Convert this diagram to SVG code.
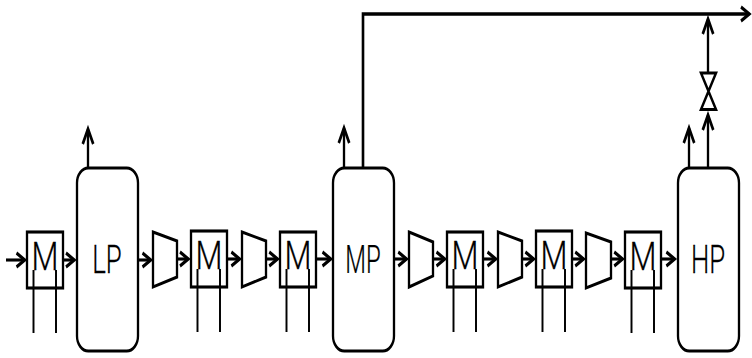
<svg xmlns="http://www.w3.org/2000/svg" width="752" height="358" viewBox="0 0 752 358">
<style>
.n{transform:scale(.75,1);fill:none;stroke:#000;stroke-width:3.1}
.b{stroke-width:3.500}
.w{stroke-width:2.600}
.l{font-family:Roboto,"Liberation Sans",Arial,sans-serif;font-weight:300;font-size:38px;fill:#000;stroke:#000;stroke-width:.25;text-anchor:middle}
</style>
<defs>
<marker id="a" markerUnits="userSpaceOnUse" markerWidth="18" markerHeight="20" refX="13" refY="10" orient="auto"><path d="M2 3L13 10L2 17" fill="none" stroke="#000" stroke-width="3.500"/></marker>
<marker id="v" markerUnits="userSpaceOnUse" markerWidth="24" markerHeight="20" refX="16" refY="10" orient="auto"><path d="M1 3L16 10L1 17" fill="none" stroke="#000" stroke-width="3.500"/></marker>
</defs>
<g id="connectors">
<path class="n" marker-end="url(#a)" d="M8 260H33"/>
<path class="n" marker-end="url(#a)" d="M84 260H99"/>
<path class="n" marker-end="url(#a)" d="M184 260H201"/>
<path class="n" marker-end="url(#a)" d="M236 259H251"/>
<path class="n" marker-end="url(#a)" d="M302.670 259H319.500"/>
<path class="n" marker-end="url(#a)" d="M354.670 259H370"/>
<path class="n" marker-end="url(#a)" d="M421.330 259H441"/>
<path class="n" marker-end="url(#a)" d="M525.330 259H542"/>
<path class="n" marker-end="url(#a)" d="M577.330 259H593"/>
<path class="n" marker-end="url(#a)" d="M644 259H661"/>
<path class="n" marker-end="url(#a)" d="M696 259H711.500"/>
<path class="n" marker-end="url(#a)" d="M762.670 259H778"/>
<path class="n" marker-end="url(#a)" d="M814.670 259H830"/>
<path class="n" marker-end="url(#a)" d="M881.330 259H899.500"/>
<path class="n" marker-end="url(#v)" d="M117.330 168V129"/>
<path class="n" marker-end="url(#v)" d="M458.670 168V128"/>
<path class="n" marker-end="url(#v)" d="M918.670 168V128"/>
<path class="n" marker-end="url(#v)" d="M944 168V115"/>
<path class="n" marker-end="url(#v)" d="M944 73V19"/>
<path class="n b" marker-end="url(#a)" d="M484 168V14H999"/>
<path class="n w" d="M44.670 270V333M74.670 270V333M263.330 269V332M293.330 269V332M382 269V332M412 269V332M604.670 269V332M634.670 269V332M723.330 269V332M753.330 269V332M842 270V333M872 270V333"/>
</g>
<g id="valve"><path class="n" d="M934.670 73H954.670L934.670 109.500H954.670Z"/></g>
<g id="m1"><rect class="n" x="36" y="232" width="48" height="56"/><text class="l" transform="translate(45 270) scale(.82 1)">M</text></g>
<g id="lp"><rect class="n" x="102.670" y="168" width="81.330" height="183" rx="15"/><text class="l" transform="translate(107 272.500) scale(.68 1)">LP</text></g>
<g id="t1"><path class="n" d="M204 232L236 241V277L204 287Z"/></g>
<g id="m2"><rect class="n" x="254.670" y="231" width="48" height="56"/><text class="l" transform="translate(209 269) scale(.82 1)">M</text></g>
<g id="t2"><path class="n" d="M322.670 232L354.670 241V277L322.670 287Z"/></g>
<g id="m3"><rect class="n" x="373.330" y="232" width="48" height="55"/><text class="l" transform="translate(298 269) scale(.82 1)">M</text></g>
<g id="mp"><rect class="n" x="444" y="168" width="81.330" height="183" rx="15"/><text class="l" transform="translate(363 273) scale(.63 1)">MP</text></g>
<g id="t3"><path class="n" d="M545.330 232L577.330 242V276L545.330 287Z"/></g>
<g id="m4"><rect class="n" x="596" y="232" width="48" height="55"/><text class="l" transform="translate(465 269) scale(.82 1)">M</text></g>
<g id="t4"><path class="n" d="M664 232L696 241V277L664 287Z"/></g>
<g id="m5"><rect class="n" x="714.670" y="231" width="48" height="56"/><text class="l" transform="translate(554 269) scale(.82 1)">M</text></g>
<g id="t5"><path class="n" d="M781.330 233L814.670 242V278L781.330 288Z"/></g>
<g id="m6"><rect class="n" x="833.330" y="232" width="48" height="56"/><text class="l" transform="translate(643 270) scale(.82 1)">M</text></g>
<g id="hp"><rect class="n" x="904" y="168" width="81.330" height="183" rx="15"/><text class="l" transform="translate(708 272.500) scale(.68 1)">HP</text></g>
</svg>
